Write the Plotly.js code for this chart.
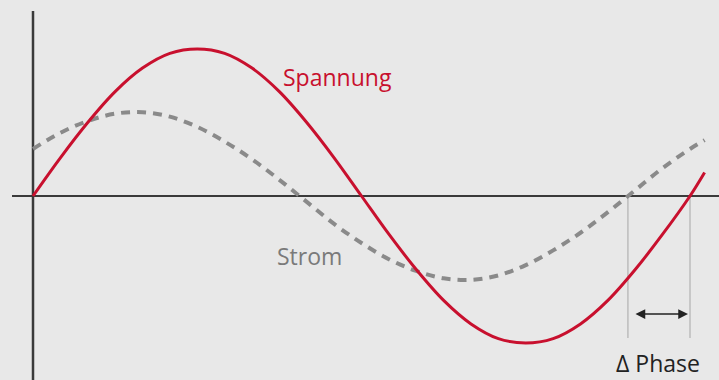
<!DOCTYPE html>
<html>
<head>
<meta charset="utf-8">
<script src="https://cdn.plot.ly/plotly-3.0.1.min.js"></script>
<style>html,body{margin:0;padding:0;background:#e8e8e8;}#chart{width:719px;height:380px;}</style>
</head>
<body>
<div id="chart"></div>
<script>
// Phase angle (degrees) at which the curves are sampled
const phaseDeg = [0,15,30,45,60,75,90,105,120,135,150,165,180,195,210,225,240,255,270,285,300,315,330,345,360,368];
// Voltage (Spannung), normalized amplitude
const spannung = [0,0.26,0.5,0.71,0.87,0.97,1,0.97,0.87,0.71,0.5,0.26,0,-0.26,-0.5,-0.71,-0.87,-0.97,-1,-0.97,-0.87,-0.71,-0.5,-0.26,0,0.16];
// Current (Strom), leading the voltage
const strom = [0.32,0.43,0.51,0.56,0.57,0.54,0.47,0.37,0.25,0.11,-0.04,-0.19,-0.32,-0.43,-0.51,-0.56,-0.57,-0.54,-0.47,-0.37,-0.25,-0.11,0.04,0.19,0.32,0.38];
// Zero crossings (degrees) used for the phase marker
const stromZero = 326;
const spannungZero = 360;
const labels = {spannung: "Spannung", strom: "Strom", phase: "Δ Phase"};

const traces = [
  {x: phaseDeg, y: strom, mode: "lines", line: {color: "#8a8a8a", width: 4, dash: "9px,7px", shape: "spline"}, hoverinfo: "skip"},
  {x: phaseDeg, y: spannung, mode: "lines", line: {color: "#c8102e", width: 3, shape: "spline"}, hoverinfo: "skip"}
];

const axisColor = "#3a3a3a";
const layout = {
  width: 719, height: 380,
  margin: {l: 0, r: 0, t: 0, b: 0, pad: 0},
  paper_bgcolor: "#e8e8e8", plot_bgcolor: "#e8e8e8",
  showlegend: false,
  xaxis: {range: [-18.08, 375.89], visible: false, fixedrange: true},
  yaxis: {range: [-1.2517, 1.3333], visible: false, fixedrange: true},
  shapes: [
    {type: "line", xref: "x", yref: "y", x0: -11.5, x1: 377, y0: 0, y1: 0, line: {color: axisColor, width: 2}, layer: "below"},
    {type: "line", xref: "x", yref: "y", x0: 0, x1: 0, y0: 1.259, y1: -1.26, line: {color: axisColor, width: 2.5}, layer: "below"},
    {type: "line", xref: "x", yref: "y", x0: stromZero, x1: stromZero, y0: 0, y1: -0.966, line: {color: "#a6a6a6", width: 1}, layer: "below"},
    {type: "line", xref: "x", yref: "y", x0: spannungZero, x1: spannungZero, y0: 0, y1: -0.966, line: {color: "#a6a6a6", width: 1}, layer: "below"}
  ],
  annotations: [
    {xref: "x", yref: "y", axref: "x", ayref: "y", x: 358.9, y: -0.803, ax: 329.3, ay: -0.803, text: "", showarrow: true, arrowside: "end+start", arrowhead: 2, arrowsize: 1.3, arrowwidth: 1.5, arrowcolor: "#222222"},
    {xref: "x", yref: "y", x: 166.8, y: 0.81, text: labels.spannung, showarrow: false, xanchor: "center", yanchor: "middle", font: {family: "Open Sans", size: 23, color: "#c8102e"}},
    {xref: "x", yref: "y", x: 151.5, y: -0.405, text: labels.strom, showarrow: false, xanchor: "center", yanchor: "middle", font: {family: "Open Sans", size: 23, color: "#7a7a7a"}},
    {xref: "x", yref: "y", x: 342.5, y: -1.133, text: labels.phase, showarrow: false, xanchor: "center", yanchor: "middle", font: {family: "Open Sans", size: 23, color: "#222222"}}
  ]
};

Plotly.newPlot("chart", traces, layout, {staticPlot: true, displayModeBar: false});
</script>
</body>
</html>
